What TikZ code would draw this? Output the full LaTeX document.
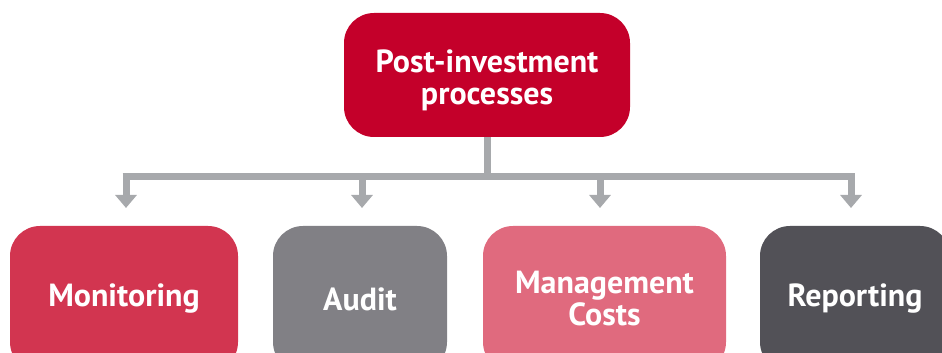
\documentclass[tikz,border=0pt]{standalone}
\usepackage{fontspec}
\setmainfont{PT Sans}
\usetikzlibrary{arrows.meta}
\definecolor{topred}{HTML}{C4002A}
\definecolor{monred}{HTML}{D23550}
\definecolor{audgray}{HTML}{818085}
\definecolor{mgmtpink}{HTML}{E06A7E}
\definecolor{repdark}{HTML}{525157}
\definecolor{linegray}{HTML}{A7A9AC}
\begin{document}
\begin{tikzpicture}[x=1pt,y=1pt,
  boxfont/.style={text=white, font=\bfseries\fontsize{32}{32}\selectfont, align=center, inner sep=0pt},
  box/.style={rounded corners=30pt, boxfont},
  conn/.style={draw=linegray, line width=7pt},
  arr/.style={draw=linegray, line width=7pt, -{Triangle[width=21pt,length=13pt]}}]
\useasboundingbox (0,0) rectangle (942,353);
\clip (0,0) rectangle (942,353);
% y_tikz = 353 - y_img
\node[box, fill=topred, minimum width=286pt, minimum height=124pt,
  label={[boxfont, yshift=-5pt]center:{Post-investment\\processes}}] (top) at (487,278) {};
\node[box, fill=monred, minimum width=228pt, minimum height=146pt] (mon) at (124,54) {Monitoring};
\node[box, fill=audgray, minimum width=174pt, minimum height=146pt] (aud) at (360,54) {Audit};
\node[box, fill=mgmtpink, minimum width=243pt, minimum height=146pt] (mgm) at (604.5,54) {Management\\Costs};
\node[box, fill=repdark, minimum width=190pt, minimum height=146pt] (rep) at (855,54) {Reporting};
\coordinate (busl) at (122.5,176);
\coordinate (busr) at (854.5,176);
\draw[conn] (top.south) -- (top.south |- busl);
\draw[conn] (busl) -- (busr);
\draw[arr] (126,179.5) -- (126,145);
\draw[arr] (362,179.5) -- (362,145);
\draw[arr] (600,179.5) -- (600,145);
\draw[arr] (851,179.5) -- (851,145);
\end{tikzpicture}
\end{document}
